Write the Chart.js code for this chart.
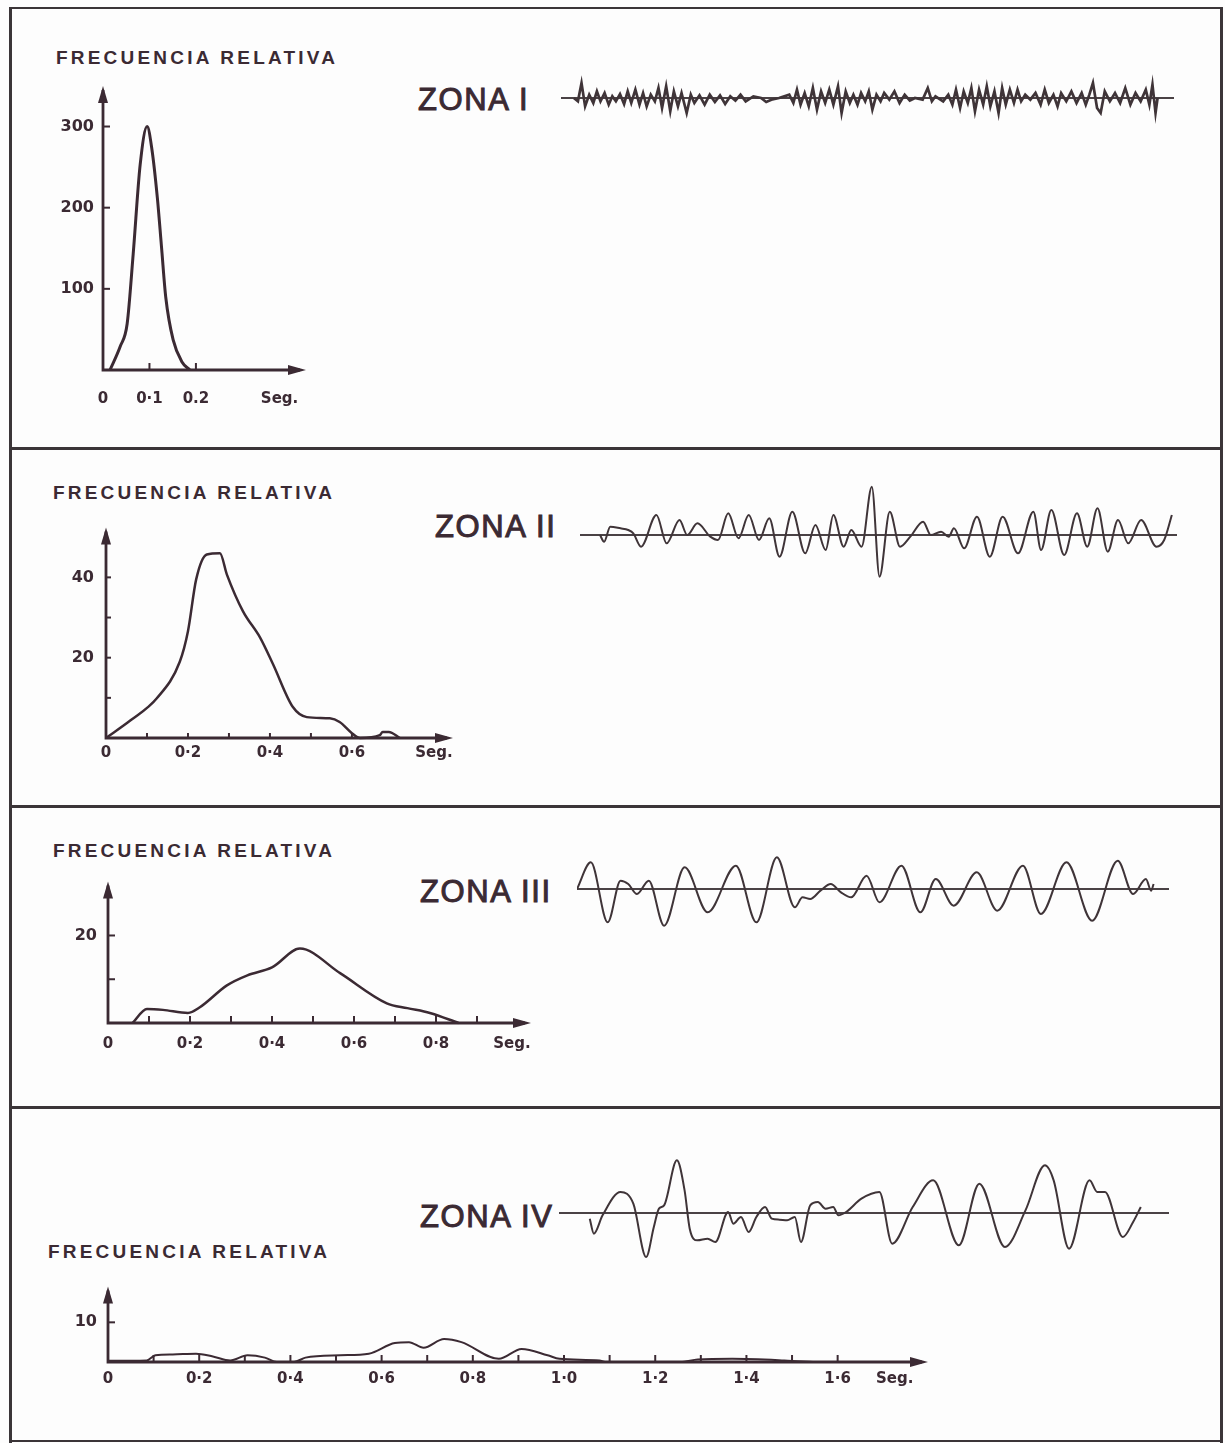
<!DOCTYPE html>
<html>
<head>
<meta charset="utf-8">
<script src="https://cdn.jsdelivr.net/npm/chart.js@4.4.1/dist/chart.umd.min.js"></script>
<style>
body { margin: 0; background: #fff; }
#page { position: relative; width: 1225px; height: 1443px; overflow: hidden; background: #fdfdfd; }
.rule { position: absolute; background: #3b3538; }
.title { position: absolute; font: bold 19px "Liberation Sans", Arial, sans-serif; letter-spacing: 3.2px; color: #3b2a33; line-height: 20px; white-space: nowrap; }
.zona { position: absolute; font: 31px "Liberation Sans", Arial, sans-serif; letter-spacing: 1.6px; color: #3b2a33; line-height: 34px; white-space: nowrap; -webkit-text-stroke: 1px #3b2a33; }
canvas { position: absolute; }
</style>
</head>
<body>
<div id="page">
  <div class="rule" style="left:10px;top:7px;width:1212px;height:2px"></div>
  <div class="rule" style="left:9px;top:7px;width:3px;height:1436px"></div>
  <div class="rule" style="left:1220px;top:7px;width:3px;height:1436px"></div>
  <div class="rule" style="left:10px;top:447px;width:1212px;height:3px"></div>
  <div class="rule" style="left:10px;top:805px;width:1212px;height:3px"></div>
  <div class="rule" style="left:10px;top:1106px;width:1212px;height:3px"></div>
  <div class="rule" style="left:10px;top:1440px;width:1212px;height:2px"></div>

  <div class="title" style="left:56px;top:48px">FRECUENCIA RELATIVA</div>
  <div class="title" style="left:53px;top:483px">FRECUENCIA RELATIVA</div>
  <div class="title" style="left:53px;top:841px">FRECUENCIA RELATIVA</div>
  <div class="title" style="left:48px;top:1242px">FRECUENCIA RELATIVA</div>

  <div class="zona" style="left:418px;top:83px">ZONA I</div>
  <div class="zona" style="left:435px;top:510px">ZONA II</div>
  <div class="zona" style="left:420px;top:875px">ZONA III</div>
  <div class="zona" style="left:420px;top:1200px">ZONA IV</div>

  <canvas id="freq1" style="left:40px;top:70px" width="290" height="340"></canvas>
  <canvas id="freq2" style="left:40px;top:510px" width="437" height="268"></canvas>
  <canvas id="freq3" style="left:40px;top:865px" width="515" height="198"></canvas>
  <canvas id="freq4" style="left:40px;top:1270px" width="912" height="132"></canvas>

  <canvas id="trace1" style="left:561px;top:68px" width="613" height="60"></canvas>
  <canvas id="trace2" style="left:580px;top:480px" width="597" height="110"></canvas>
  <canvas id="trace3" style="left:577px;top:842px" width="592" height="94"></canvas>
  <canvas id="trace4" style="left:559px;top:1150px" width="610" height="126"></canvas>
</div>
<script>
// frecuencia relativa vs periodo (seg) for each zone
const INK = '#3b2a33';
const TRACE = '#3f3438';

// Zona I
const periodI = [0.015, 0.037, 0.052, 0.065, 0.08, 0.095, 0.105, 0.117, 0.126, 0.135, 0.151, 0.17, 0.187];
const freqI = [0, 29, 57, 143, 253, 300, 273, 212, 151, 90, 37, 10, 0];
const xTicksI = [0, 0.1, 0.2];
const xLabelsI = ['0', '0·1', '0.2'];
const yTicksI = [100, 200, 300];
const yLabelsI = ['100', '200', '300'];

// Zona II
const periodII = [0, 0.06, 0.124, 0.18, 0.2, 0.22, 0.246, 0.278, 0.295, 0.334, 0.376, 0.407, 0.456, 0.49, 0.546, 0.57, 0.6, 0.62, 0.668, 0.675, 0.69, 0.717];
const freqII = [0, 4.4, 9.9, 19, 26.6, 39.5, 45.7, 46, 40.7, 31.6, 25, 18.5, 7.7, 5.2, 4.9, 4, 1.2, 0, 0.7, 1.5, 1.5, 0];
const xTicksII = [0, 0.1, 0.2, 0.3, 0.4, 0.5, 0.6];
const xLabelsII = ['0', '', '0·2', '', '0·4', '', '0·6'];
const yTicksII = [10, 20, 30, 40];
const yLabelsII = ['', '20', '', '40'];

// Zona III
const periodIII = [0.06, 0.095, 0.134, 0.195, 0.224, 0.29, 0.34, 0.4, 0.468, 0.566, 0.68, 0.73, 0.785, 0.855];
const freqIII = [0, 3.2, 3, 2.3, 3.6, 8.6, 10.9, 12.7, 17, 11.4, 4.5, 3.4, 2.3, 0];
const xTicksIII = [0, 0.1, 0.2, 0.3, 0.4, 0.5, 0.6, 0.7, 0.8, 0.9];
const xLabelsIII = ['0', '', '0·2', '', '0·4', '', '0·6', '', '0·8', ''];
const yTicksIII = [10, 20];
const yLabelsIII = ['', '20'];

// Zona IV
const periodIV = [0, 0.085, 0.104, 0.142, 0.193, 0.23, 0.268, 0.306, 0.344, 0.37, 0.408, 0.433, 0.509, 0.572, 0.629, 0.66, 0.692, 0.737, 0.775, 0.857, 0.907, 0.964, 0.99, 1.078, 1.09, 1.255, 1.293, 1.369, 1.483, 1.546];
const freqIV = [0.3, 0.4, 1.7, 1.9, 2.1, 1.4, 0.4, 1.7, 1.1, 0, 0, 1.1, 1.7, 2.1, 4.8, 5, 3.6, 5.8, 5, 0.8, 3.3, 1.7, 0.8, 0.4, 0, 0, 0.6, 0.8, 0.4, 0];
const xTicksIV = [0, 0.1, 0.2, 0.3, 0.4, 0.5, 0.6, 0.7, 0.8, 0.9, 1.0, 1.1, 1.2, 1.3, 1.4, 1.5, 1.6];
const xLabelsIV = ['0', '', '0·2', '', '0·4', '', '0·6', '', '0·8', '', '1·0', '', '1·2', '', '1·4', '', '1·6'];
const yTicksIV = [10];
const yLabelsIV = ['10'];

// sismogramas: time (samples) and amplitude
const tI = [340, 348, 355, 362, 370, 378, 385, 392, 400, 408, 415, 422, 430, 438, 445, 452, 460, 468, 475, 482, 490, 498, 505, 512, 520, 528, 535, 543, 550, 560, 568, 575, 585, 595, 605, 615, 625, 635, 645, 655, 665, 675, 690, 705, 715, 725, 740, 760, 768, 775, 782, 790, 798, 806, 814, 822, 830, 838, 846, 855, 862, 870, 878, 885, 893, 900, 908, 915, 922, 930, 938, 945, 955, 965, 975, 985, 995, 1005, 1020, 1030, 1038, 1045, 1060, 1070, 1078, 1085, 1093, 1100, 1108, 1115, 1122, 1130, 1138, 1145, 1152, 1160, 1168, 1175, 1182, 1190, 1198, 1205, 1212, 1220, 1230, 1240, 1250, 1258, 1266, 1275, 1283, 1290, 1300, 1310, 1320, 1330, 1338, 1345, 1352, 1360, 1367, 1375, 1385, 1395, 1405, 1415, 1425, 1435, 1445, 1455, 1462, 1468, 1474, 1478];
const aI = [0, -10, 45, -25, 10, -15, 20, -10, 15, -20, 5, -10, 12, -18, 20, -15, 25, -20, 15, -25, 10, -10, 30, -30, 35, -40, 20, -25, 15, -45, 10, -15, 8, -20, 10, -12, 8, -18, 5, -8, 10, -10, 5, 0, -12, -5, 0, 10, -15, 25, -20, 15, -25, 30, -35, 20, -15, 25, -20, 35, -45, 20, -15, 10, -20, 15, -10, 20, -35, 10, -10, 15, -5, 20, -15, 10, -8, 0, -5, 30, -10, 5, -10, 10, -20, 25, -30, 20, -15, 30, -40, 25, -20, 35, -25, 20, -45, 30, -20, 25, -15, 25, -10, 10, -5, 15, -20, 25, -15, 10, -25, 15, -10, 20, -15, 15, -20, 10, 45, -30, -45, 20, -10, 15, -15, 30, -20, 15, -10, 25, -20, 40, -45, 0];

const tII = [390, 398, 410, 430, 445, 455, 470, 500, 520, 545, 560, 580, 605, 620, 640, 660, 680, 700, 720, 740, 765, 790, 810, 830, 845, 865, 880, 900, 920, 935, 955, 975, 995, 1020, 1035, 1055, 1070, 1080, 1100, 1125, 1150, 1175, 1205, 1235, 1250, 1270, 1295, 1320, 1340, 1360, 1380, 1400, 1420, 1445, 1475, 1490, 1505];
const aII = [0, -20, 25, 20, 15, 5, -35, 60, -25, 45, 0, 35, -5, -15, 65, -10, 60, -15, 50, -65, 70, -55, 30, -45, 60, -35, 15, -35, 145, -125, 70, -35, -5, 40, 0, 10, -5, 20, -40, 55, -65, 55, -55, 70, -45, 75, -60, 65, -35, 80, -50, 45, -25, 45, -35, -15, 60];

const tIII = [345, 372, 405, 430, 445, 462, 485, 515, 555, 600, 655, 695, 735, 770, 785, 800, 820, 840, 860, 880, 910, 935, 978, 1015, 1045, 1080, 1125, 1165, 1215, 1250, 1300, 1350, 1400, 1430, 1455, 1465, 1470];
const aIII = [0, 80, -100, 25, 15, -15, 25, -110, 65, -70, 70, -100, 95, -55, -25, -30, -5, 15, -10, -25, 40, -40, 70, -70, 30, -50, 50, -65, 70, -75, 80, -95, 85, -15, 30, -5, 15];

const tIV = [370, 378, 395, 430, 455, 480, 495, 505, 515, 540, 555, 565, 580, 600, 615, 640, 650, 665, 680, 695, 712, 725, 740, 755, 770, 782, 800, 815, 830, 845, 855, 870, 900, 935, 960, 1000, 1040, 1090, 1130, 1180, 1220, 1258, 1275, 1305, 1345, 1360, 1375, 1410, 1430, 1445];
const aIV = [-17, -62, -7, 63, 28, -132, -42, 13, 23, 158, 68, -47, -82, -77, -87, 3, -32, -12, -57, -12, 18, -17, -20, -22, -12, -87, 23, 33, 13, 18, -7, 3, 43, 63, -92, 18, 98, -97, 88, -102, 8, 143, 98, -107, 98, 63, 63, -72, -27, 18];

const freqAxes = {
    id: 'freqAxes',
    afterDatasetsDraw(chart, args, o) {
        const { ctx, chartArea: a, scales } = chart;
        ctx.save();
        ctx.strokeStyle = INK;
        ctx.fillStyle = INK;
        ctx.lineWidth = 2.8;
        ctx.beginPath();
        ctx.moveTo(a.left, a.top);
        ctx.lineTo(a.left, a.bottom);
        ctx.lineTo(a.right, a.bottom);
        ctx.stroke();
        // arrow heads
        ctx.beginPath();
        ctx.moveTo(a.left, a.top - 4);
        ctx.lineTo(a.left - 5, a.top + 13);
        ctx.lineTo(a.left + 5, a.top + 13);
        ctx.closePath();
        ctx.fill();
        ctx.beginPath();
        ctx.moveTo(a.right + 6, a.bottom);
        ctx.lineTo(a.right - 12, a.bottom - 5);
        ctx.lineTo(a.right - 12, a.bottom + 5);
        ctx.closePath();
        ctx.fill();
        // inward tick marks
        ctx.lineWidth = 2;
        o.xMarks.forEach(v => {
            if (v === 0) return;
            const p = scales.x.getPixelForValue(v);
            ctx.beginPath();
            ctx.moveTo(p, a.bottom);
            ctx.lineTo(p, a.bottom - o.len);
            ctx.stroke();
        });
        o.yMarks.forEach(v => {
            const p = scales.y.getPixelForValue(v);
            ctx.beginPath();
            ctx.moveTo(a.left, p);
            ctx.lineTo(a.left + o.len, p);
            ctx.stroke();
        });
        ctx.restore();
    }
};

function makeFreq(id, c) {
    const xVals = [...c.xTicks, c.seg];
    const xLabs = [...c.xLabels, 'Seg.'];
    new Chart(document.getElementById(id), {
        type: 'line',
        data: {
            datasets: [{
                data: c.px.map((p, i) => ({ x: p, y: c.fy[i] })),
                borderColor: INK,
                borderWidth: c.lw || 2.5,
                pointRadius: 0,
                cubicInterpolationMode: 'monotone',
                clip: false
            }]
        },
        options: {
            responsive: false,
            animation: false,
            devicePixelRatio: 1,
            layout: { autoPadding: false, padding: { top: 20, right: 30, left: 0, bottom: 0 } },
            plugins: {
                legend: { display: false },
                tooltip: { enabled: false },
                freqAxes: { xMarks: c.xTicks, yMarks: c.yTicks, len: c.len }
            },
            scales: {
                x: {
                    type: 'linear', min: 0, max: c.xMax,
                    afterFit: s => { s.height = 40; },
                    afterBuildTicks: s => { s.ticks = xVals.map(v => ({ value: v })); },
                    grid: { display: false, drawTicks: false },
                    border: { display: false },
                    ticks: {
                        autoSkip: false, maxRotation: 0, padding: c.xPad, color: INK,
                        font: { family: 'DejaVu Sans', weight: 'bold', size: 15 },
                        callback: (v, i) => xLabs[i]
                    }
                },
                y: {
                    type: 'linear', min: 0, max: c.yMax,
                    afterFit: s => { s.width = c.yWidth; },
                    afterBuildTicks: s => { s.ticks = c.yTicks.map(v => ({ value: v })); },
                    grid: { display: false, drawTicks: false },
                    border: { display: false },
                    ticks: {
                        autoSkip: false, padding: c.yPad, color: INK,
                        font: { family: 'DejaVu Sans', weight: 'bold', size: 16 },
                        callback: (v, i) => c.yLabels[i]
                    }
                }
            }
        },
        plugins: [freqAxes]
    });
}

makeFreq('freq1', { px: periodI, fy: freqI, xTicks: xTicksI, xLabels: xLabelsI, yTicks: yTicksI, yLabels: yLabelsI,
    seg: 0.38, xMax: 0.424, yMax: 345, yWidth: 63, xPad: 20, yPad: 9, len: 7, lw: 3 });
makeFreq('freq2', { px: periodII, fy: freqII, xTicks: xTicksII, xLabels: xLabelsII, yTicks: yTicksII, yLabels: yLabelsII,
    seg: 0.8, xMax: 0.832, yMax: 51.4, yWidth: 66, xPad: 6, yPad: 12, len: 5 });
makeFreq('freq3', { px: periodIII, fy: freqIII, xTicks: xTicksIII, xLabels: xLabelsIII, yTicks: yTicksIII, yLabels: yLabelsIII,
    seg: 0.985, xMax: 1.017, yMax: 31.4, yWidth: 68, xPad: 12, yPad: 11, len: 7 });
makeFreq('freq4', { px: periodIV, fy: freqIV, xTicks: xTicksIV, xLabels: xLabelsIV, yTicks: yTicksIV, yLabels: yLabelsIV,
    seg: 1.725, xMax: 1.785, yMax: 18, yWidth: 68, xPad: 8, yPad: 11, len: 7, lw: 2 });

const zeroLine = {
    id: 'zeroLine',
    beforeDatasetsDraw(chart) {
        const { ctx, chartArea: a, scales } = chart;
        const y0 = scales.y.getPixelForValue(0);
        ctx.save();
        ctx.strokeStyle = '#4a4245';
        ctx.lineWidth = 2;
        ctx.beginPath();
        ctx.moveTo(a.left, y0);
        ctx.lineTo(a.right, y0);
        ctx.stroke();
        ctx.restore();
    }
};

function makeTrace(id, t, amp, c) {
    new Chart(document.getElementById(id), {
        type: 'line',
        data: {
            datasets: [{
                data: t.map((v, i) => ({ x: v, y: amp[i] })),
                borderColor: TRACE,
                borderWidth: c.lw,
                pointRadius: 0,
                tension: 0,
                cubicInterpolationMode: c.smooth ? 'monotone' : 'default'
            }]
        },
        options: {
            responsive: false,
            animation: false,
            devicePixelRatio: 1,
            layout: { autoPadding: false, padding: 0 },
            plugins: { legend: { display: false }, tooltip: { enabled: false } },
            scales: {
                x: { type: 'linear', min: c.t0, max: c.t1, display: false },
                y: { min: -c.range, max: c.range, display: false }
            }
        },
        plugins: [zeroLine]
    });
}

makeTrace('trace1', tI, aI, { t0: 315, t1: 1510, range: 90, lw: 2.7, smooth: false });
makeTrace('trace2', tII, aII, { t0: 351, t1: 1515, range: 165, lw: 2, smooth: true });
makeTrace('trace3', tIII, aIII, { t0: 345, t1: 1500, range: 141, lw: 2, smooth: true });
makeTrace('trace4', tIV, aIV, { t0: 310, t1: 1500, range: 189, lw: 2, smooth: true });
</script>
</body>
</html>
